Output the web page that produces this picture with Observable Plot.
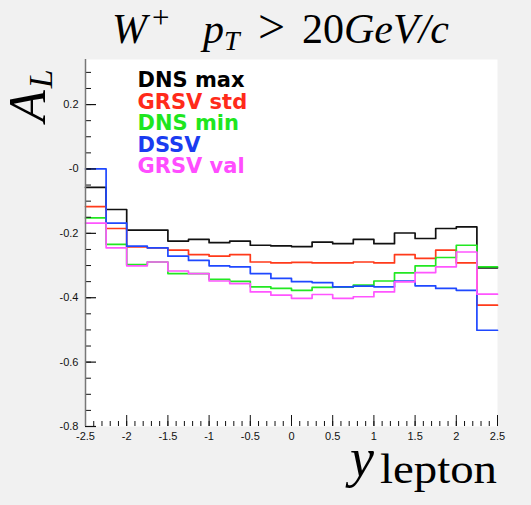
<!DOCTYPE html>
<html>
<head>
<meta charset="utf-8">
<script src="https://cdn.jsdelivr.net/npm/d3@7"></script>
<script src="https://cdn.jsdelivr.net/npm/@observablehq/plot@0.6"></script>
<style>
  html, body { margin: 0; padding: 0; background: #f1f1f1; }
</style>
</head>
<body>
<div id="chart"></div>
<script>
// Bin lower edges of y_lepton (20 bins of 0.25 from -2.5 to 2.5)
const binEdges = [-2.5,-2.25,-2.0,-1.75,-1.5,-1.25,-1.0,-0.75,-0.5,-0.25,0.0,0.25,0.5,0.75,1.0,1.25,1.5,1.75,2.0,2.25];
const xMax = 2.5;

// Series (legend order = draw order)
const seriesNames = ["DNS max", "GRSV std", "DNS min", "DSSV", "GRSV val"];
const seriesColors = ["#111111", "#ff3a1a", "#22e822", "#1f48ff", "#ff55ff"];
const legendColors = ["#000000", "#ff2a1a", "#1ee61e", "#1a3cf0", "#ff4dff"];

const dnsMax  = [-0.057,-0.126,-0.190,-0.190,-0.224,-0.219,-0.229,-0.224,-0.237,-0.239,-0.241,-0.227,-0.232,-0.219,-0.232,-0.199,-0.216,-0.185,-0.180,-0.307];
const grsvStd = [-0.117,-0.185,-0.242,-0.245,-0.252,-0.266,-0.271,-0.266,-0.289,-0.292,-0.290,-0.292,-0.292,-0.289,-0.292,-0.266,-0.278,-0.252,-0.292,-0.423];
const dnsMin  = [-0.152,-0.234,-0.297,-0.289,-0.325,-0.325,-0.343,-0.349,-0.366,-0.371,-0.377,-0.368,-0.367,-0.361,-0.348,-0.323,-0.301,-0.275,-0.237,-0.304];
const dssv    = [0.000,-0.168,-0.240,-0.245,-0.271,-0.284,-0.301,-0.304,-0.325,-0.340,-0.350,-0.353,-0.366,-0.364,-0.366,-0.348,-0.363,-0.371,-0.377,-0.501];
const grsvVal = [-0.168,-0.245,-0.301,-0.289,-0.317,-0.325,-0.348,-0.356,-0.382,-0.392,-0.402,-0.390,-0.402,-0.397,-0.382,-0.351,-0.322,-0.304,-0.258,-0.389];
const seriesValues = [dnsMax, grsvStd, dnsMin, dssv, grsvVal];

// Axis ticks and labels
const xMajor = [-2.5,-2,-1.5,-1,-0.5,0,0.5,1,1.5,2,2.5];
const xMajorLabels = ["-2.5","-2","-1.5","-1","-0.5","0","0.5","1","1.5","2","2.5"];
const yMajor = [0.2,0,-0.2,-0.4,-0.6,-0.8];
const yMajorLabels = ["0.2","-0","-0.2","-0.4","-0.6","-0.8"];
const xMinor = d3.range(-25, 26).map(i => i / 10);
const yMinor = d3.range(-16, 7).map(i => i * 0.05);

// Build step-histogram rows
const rows = [];
seriesNames.forEach((name, s) => {
  const vals = seriesValues[s];
  binEdges.forEach((x, i) => rows.push({series: name, x, v: vals[i]}));
  rows.push({series: name, x: xMax, v: vals[vals.length - 1]});
});

const W = 531, H = 505;
const mL = 85, mR = 34, mT = 59, mB = 79;
const plotW = W - mL - mR, plotH = H - mT - mB;

const legendMarks = seriesNames.map((name, i) =>
  Plot.text([name], {
    frameAnchor: "top-left", text: d => d, dx: 52, dy: 21 + i * 21.5,
    textAnchor: "start", lineAnchor: "middle",
    fill: legendColors[i], fontSize: 21, fontWeight: "bold",
    fontFamily: "DejaVu Sans, sans-serif"
  })
);

const chart = Plot.plot({
  width: W, height: H,
  marginLeft: mL, marginRight: mR, marginTop: mT, marginBottom: mB,
  style: {background: "#f1f1f1", fontFamily: "Liberation Sans, sans-serif"},
  x: {domain: [-2.5, 2.5]},
  y: {domain: [-0.8, 0.34]},
  color: {domain: seriesNames, range: seriesColors},
  marks: [
    Plot.frame({fill: "white", stroke: "none"}),
    Plot.axisX({ticks: xMajor, tickSize: 0, tickPadding: 6, tickFormat: (d, i) => xMajorLabels[i], fontSize: 11, fill: "#111", label: null}),
    Plot.axisY({ticks: yMajor, tickSize: 0, tickPadding: 7, tickFormat: (d, i) => yMajorLabels[i], fontSize: 11, fill: "#111", label: null}),
    Plot.line(rows, {x: "x", y: "v", z: "series", stroke: "series", curve: "step-after", strokeWidth: 1.7}),
    Plot.tickX(xMinor, {x: d => d, insetTop: plotH - 5, stroke: "#111", strokeWidth: 1}),
    Plot.tickX(xMajor, {x: d => d, insetTop: plotH - 11, stroke: "#111", strokeWidth: 1}),
    Plot.tickY(yMinor, {y: d => d, insetRight: plotW - 6, stroke: "#111", strokeWidth: 1}),
    Plot.tickY(yMajor, {y: d => d, insetRight: plotW - 11, stroke: "#111", strokeWidth: 1.2}),
    Plot.ruleX([-2.5], {stroke: "#777", strokeWidth: 1.5}),
    ...legendMarks
  ]
});

const svg = d3.select(chart);
const serif = "'Liberation Serif', 'Times New Roman', serif";

// Title: W^+  p_T > 20GeV/c
const t = svg.append("text").attr("x", 112).attr("y", 43).attr("text-anchor", "start")
  .style("font-family", serif).style("font-size", "42px").attr("fill", "#000");
t.append("tspan").style("font-style", "italic").text("W");
t.append("tspan").attr("x", 152).style("font-size", "31px").attr("dy", -15).text("+");
t.append("tspan").attr("x", 203).attr("dy", 15).style("font-style", "italic").text("p");
t.append("tspan").style("font-size", "28px").style("font-style", "italic").attr("dy", 7).text("T");
t.append("tspan").attr("x", 258).attr("dy", -7).style("font-size", "48px").text(">");
t.append("tspan").attr("x", 302).text("20");
t.append("tspan").style("font-style", "italic").text("GeV/c");

// Y label: A_L (rotated)
const yl = svg.append("text").attr("transform", "translate(45,122) rotate(-90)").attr("text-anchor", "start")
  .style("font-family", serif).style("font-size", "52px").style("font-style", "italic").attr("fill", "#000");
yl.append("tspan").text("A");
yl.append("tspan").style("font-size", "34px").attr("dx", 2).attr("dy", 7).text("L");

// X label: y_lepton
const xl = svg.append("text").attr("x", 350).attr("y", 476).attr("text-anchor", "start")
  .style("font-family", serif).style("font-size", "54px").attr("fill", "#000");
xl.append("tspan").style("font-style", "italic").text("y");
xl.append("tspan").attr("x", 380).attr("dy", 7).style("font-size", "42px").attr("textLength", 117).attr("lengthAdjust", "spacingAndGlyphs").text("lepton");

document.getElementById("chart").appendChild(chart);
</script>
</body>
</html>
